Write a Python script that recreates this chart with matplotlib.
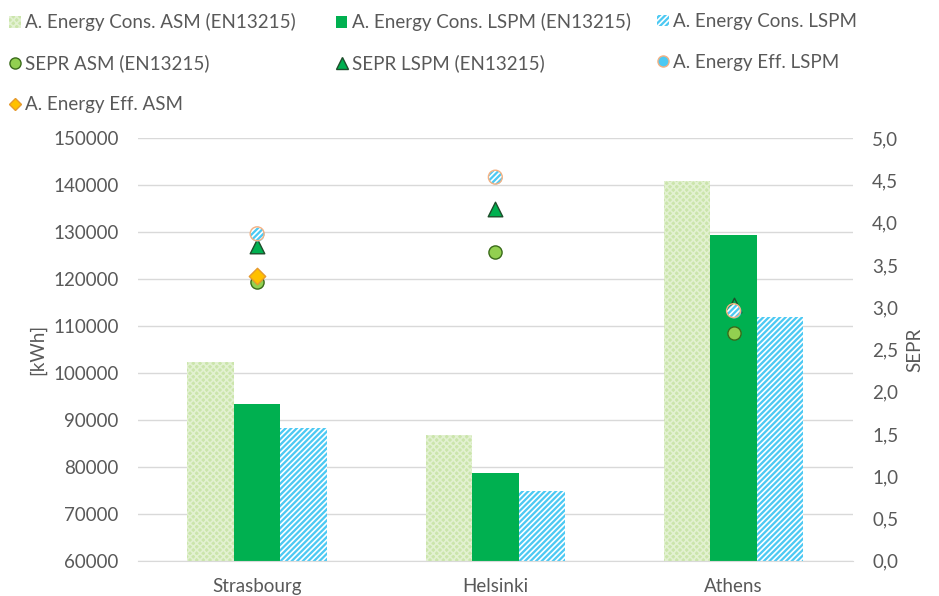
import numpy as np
import matplotlib
matplotlib.use("Agg")
import matplotlib.pyplot as plt
from matplotlib.lines import Line2D
from matplotlib.patches import Patch

cities = ["Strasbourg", "Helsinki", "Athens"]

# annual energy consumption [kWh]
cons_asm_en = [102400, 86700, 140900]
cons_lspm_en = [93300, 78800, 129400]
cons_lspm = [88200, 74800, 111900]

# seasonal performance
sepr_asm = [3.30, 3.65, 2.70]
sepr_lspm = [3.72, 4.16, 3.03]
eff_lspm = [3.87, 4.54, 2.96]
eff_asm = [3.37, np.nan, np.nan]

GREY = "#595959"
FS = 13.5
plt.rcParams["font.family"] = ["Lato", "DejaVu Sans"]
plt.rcParams["hatch.color"] = "white"
plt.rcParams["hatch.linewidth"] = 1.2

fig = plt.figure(figsize=(9.39, 5.96), dpi=100)
ax = fig.add_axes([0.147, 0.059, 0.761, 0.709])
ax2 = ax.twinx()

x = np.arange(len(cities))
w = 0.195
ax.bar(x - w, cons_asm_en, w, color="#cbe5ab", edgecolor="#e2f1d1",
       hatch="xxxxx", linewidth=0, zorder=2)
ax.bar(x, cons_lspm_en, w, color="#00b050", linewidth=0, zorder=2)
ax.bar(x + w, cons_lspm, w, color="#4cc9f3", edgecolor="white",
       hatch="//////", linewidth=0, zorder=2)

ax.set_ylim(60000, 150000)
ax.set_yticks(range(60000, 150001, 10000))
ax.set_xlim(-0.5, 2.5)
ax.set_xticks(x)
ax.set_xticklabels(cities)
ax.grid(axis="y", color="#d9d9d9", linewidth=1, zorder=0)
ax.set_axisbelow(True)
ax.set_ylabel("[kWh]", color=GREY, fontsize=FS, labelpad=5)

ax2.set_ylim(0, 5)
ax2.set_yticks(np.arange(0, 5.01, 0.5))
ax2.set_yticklabels([f"{v:.1f}".replace(".", ",") for v in np.arange(0, 5.01, 0.5)])
ax2.set_ylabel("SEPR", color=GREY, fontsize=FS, labelpad=6)

for a in (ax, ax2):
    for s in a.spines.values():
        s.set_visible(False)
    a.tick_params(axis="y", length=0, labelsize=FS, labelcolor=GREY, pad=14)
ax.tick_params(axis="x", length=0, labelsize=FS, labelcolor=GREY, pad=12)
ax.spines["bottom"].set_visible(True)
ax.spines["bottom"].set_color("#d9d9d9")

ax2.scatter(x, sepr_asm, s=90, marker="o", color="#92d050",
            edgecolors="#3a6b1a", linewidths=1, zorder=3)
ax2.scatter(x, sepr_lspm, s=110, marker="^", color="#00b050",
            edgecolors="#1e4d2b", linewidths=1, zorder=4)
# hatched circle: blue fill, white stripes, orange ring
ax2.scatter(x, eff_lspm, s=100, marker="o", color="#4cc9f3",
            linewidths=0, zorder=5)
ax2.scatter(x, eff_lspm, s=100, marker="o", facecolors="none",
            edgecolors="white", hatch="//////", linewidths=0, zorder=5)
ax2.scatter(x, eff_lspm, s=100, marker="o", facecolors="none",
            edgecolors="#f4b183", linewidths=1, zorder=5)
ax2.scatter(x, eff_asm, s=70, marker="D", color="#ffc000",
            edgecolors="#e69a2e", linewidths=1, zorder=6)

# legend, three columns laid out row by row
h_asm = Patch(facecolor="#cbe5ab", edgecolor="#e2f1d1", hatch="xxxxx", linewidth=0)
h_lspm_en = Patch(facecolor="#00b050", linewidth=0)
h_lspm = Patch(facecolor="#4cc9f3", edgecolor="white", hatch="//////", linewidth=0)
h_sepr_asm = Line2D([], [], ls="", marker="o", ms=8, mfc="#92d050", mec="#3a6b1a")
h_sepr_lspm = Line2D([], [], ls="", marker="^", ms=9, mfc="#00b050", mec="#1e4d2b")
h_eff_lspm = Line2D([], [], ls="", marker="o", ms=8, mfc="#4cc9f3", mec="#f4b183")
h_eff_asm = Line2D([], [], ls="", marker="D", ms=6.5, mfc="#ffc000", mec="#e69a2e")

columns = [
    (-0.004, [h_asm, h_sepr_asm, h_eff_asm],
     ["A. Energy Cons. ASM (EN13215)", "SEPR ASM (EN13215)", "A. Energy Eff. ASM"]),
    (0.344, [h_lspm_en, h_sepr_lspm],
     ["A. Energy Cons. LSPM (EN13215)", "SEPR LSPM (EN13215)"]),
    (0.686, [h_lspm, h_eff_lspm],
     ["A. Energy Cons. LSPM", "A. Energy Eff. LSPM"]),
]
for xpos, handles, labels in columns:
    fig.legend(handles, labels, loc="upper left", bbox_to_anchor=(xpos, 1.0),
               frameon=False, fontsize=FS, labelcolor=GREY,
               handlelength=0.6, handleheight=0.6, handletextpad=0.25,
               labelspacing=1.25, borderaxespad=0.3)

fig.savefig("out.png", dpi=100)
